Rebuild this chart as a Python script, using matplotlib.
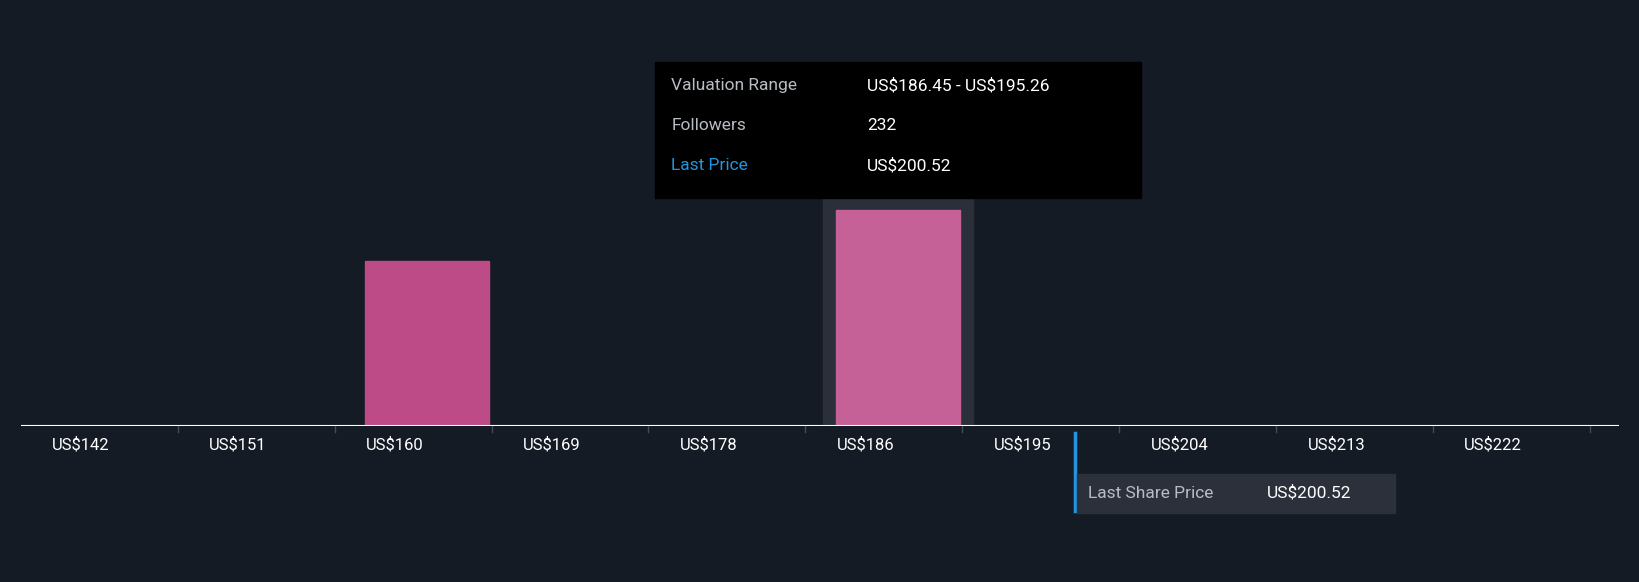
import matplotlib.pyplot as plt
from matplotlib.patches import Rectangle

plt.rcParams['font.family'] = ['Roboto', 'DejaVu Sans']

# bins of the valuation histogram
bin_start = 141.32
bin_width = 8.81
labels = ["US$142", "US$151", "US$160", "US$169", "US$178", "US$186", "US$195", "US$204", "US$213", "US$222"]
counts = [0, 0, 177, 0, 0, 232, 0, 0, 0, 0]
hover_bin = 5
last_price = 200.52

bg = "#151b25"
W, H = 1568, 556
upx = bin_width / 150  # data units per reference pixel
fig = plt.figure(figsize=(16.4, 5.82), dpi=100, facecolor=bg)
ax = fig.add_axes([20 / W, (H - 407) / H, 1528 / W, 407 / H])
ax.set_facecolor(bg)
ax.set_xlim(bin_start, bin_start + 1528 * upx)
ax.set_ylim(0, 458)
for s in ax.spines.values():
    s.set_visible(False)
ax.set_xticks([])
ax.set_yticks([])
ax.axhline(0, color="white", lw=1.5, zorder=5)

for i, c in enumerate(counts):
    l = bin_start + i * bin_width
    if i == hover_bin:
        ax.add_patch(Rectangle((l + 17 * upx, 0), 143 * upx, 218 / 407 * 458,
                               color="#2a2f3a", zorder=1))
    if c > 0:
        col = "#c56197" if i == hover_bin else "#bd4b87"
        ax.add_patch(Rectangle((l + 29 * upx, 0), 119 * upx, c, color=col, zorder=3))
    ax.text(l + 30 * upx, -0.025, labels[i].replace("$", r"\$"), transform=ax.get_xaxis_transform(),
            ha="left", va="top", color="white", fontsize=12)
    r = l + bin_width
    ax.plot([r, r], [0, -6], color="#444b57", lw=1, clip_on=False)

# last price marker
ax.plot([last_price, last_price], [-8, -0.2 * 458], color="#2394df", lw=2.5,
        clip_on=False, zorder=6)
fig.patches.append(Rectangle((1030 / W, (H - 490) / H), 304 / W, 37 / H,
                             transform=fig.transFigure, color="#2b303a", zorder=0))
fig.text(1040 / W, (H - 471) / H, "Last Share Price", color="#b8bcc4", fontsize=12.5, va="center")
fig.text(1211 / W, (H - 471) / H, r"US\$200.52", color="white", fontsize=12.5, va="center")

# tooltip
fig.patches.append(Rectangle((626 / W, (H - 189) / H), 465 / W, 130 / H,
                             transform=fig.transFigure, color="black", zorder=0))
rows = [("Valuation Range", r"US\$186.45 - US\$195.26", "#b8bcc4"),
        ("Followers", "232", "#b8bcc4"),
        ("Last Price", r"US\$200.52", "#2394df")]
for k, (a, b, c) in enumerate(rows):
    y = (H - 82 - 38 * k) / H
    fig.text(642 / W, y, a, color=c, fontsize=12.5, va="center")
    fig.text(829 / W, y, b, color="white", fontsize=12.5, va="center")

fig.savefig("out.png", facecolor=bg)
